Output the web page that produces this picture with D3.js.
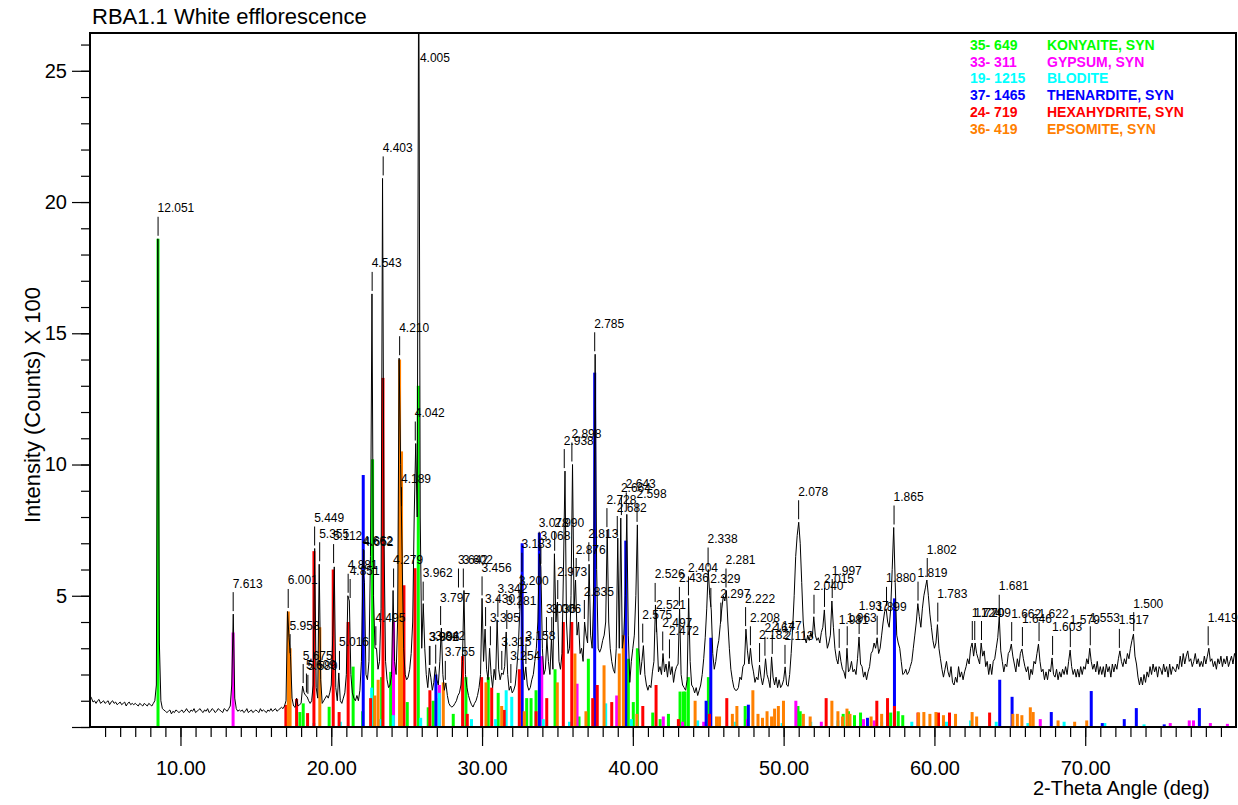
<!DOCTYPE html>
<html>
<head>
<meta charset="utf-8">
<script src="https://cdn.jsdelivr.net/npm/d3@7"></script>
<style>
  body { margin: 0; background: #fff; }
  svg { display: block; }
  text { font-family: "Liberation Sans", Arial, sans-serif; }
</style>
</head>
<body>
<svg id="chart" width="1238" height="805"></svg>
<script>
// measured pattern, one row per degree (step 0.1 deg, starts at 4.0)
const traceStart = 4.0;
const traceStep = 0.1;
const traceRows = [
  [1.2,1.1,0.95,1.0,0.9,1.0,1.05,0.9,0.95,1.0],
  [0.9,0.95,1.0,0.85,0.95,1.0,0.9,0.95,0.85,0.9],
  [0.95,0.85,0.9,0.95,0.8,0.9,0.95,0.85,0.9,0.85],
  [0.9,0.85,0.8,0.9,0.85,0.8,0.9,0.85,0.8,0.9],
  [0.85,0.8,0.9,1.0,1.6,18.6,3.2,1.0,0.7,0.65],
  [0.6,0.55,0.6,0.65,0.5,0.6,0.55,0.65,0.6,0.55],
  [0.6,0.65,0.55,0.6,0.7,0.6,0.55,0.65,0.6,0.7],
  [0.55,0.6,0.65,0.7,0.6,0.55,0.65,0.6,0.7,0.55],
  [0.6,0.7,0.65,0.55,0.6,0.7,0.65,0.6,0.55,0.7],
  [0.65,0.6,0.7,0.8,1.6,4.3,1.1,0.7,0.6,0.65],
  [0.6,0.65,0.55,0.6,0.7,0.55,0.6,0.65,0.55,0.6],
  [0.65,0.6,0.55,0.7,0.6,0.65,0.6,0.55,0.65,0.6],
  [0.7,0.6,0.65,0.7,0.6,0.65,0.7,0.75,0.7,0.8],
  [1.0,4.4,3.4,2.7,1.1,0.8,0.75,1.1,0.8,0.85],
  [0.9,1.56,1.3,1.2,1.15,1.0,0.9,1.0,1.6,6.8],
  [1.5,1.1,6.2,1.8,0.9,1.0,1.1,1.2,1.1,1.3],
  [1.6,3.5,6.1,1.5,1.0,2.06,1.0,0.9,1.1,1.3],
  [2.0,5.0,4.8,2.0,1.3,1.1,1.0,1.2,1.0,1.4],
  [2.5,5.94,5.5,2.0,1.8,2.5,6.5,16.5,5.0,3.0],
  [3.0,2.2,2.5,4.5,20.9,7.0,2.5,1.8,1.5,1.6],
  [2.0,5.2,2.5,2.0,4.0,14.05,10.0,6.5,3.0,2.0],
  [1.8,1.9,2.2,2.8,4.0,8.0,10.8,8.0,30,8.0],
  [3.0,4.7,3.0,2.0,1.5,2.25,1.9,1.4,1.7,2.3],
  [1.8,1.6,2.5,3.77,2.0,1.4,1.68,1.2,0.9,0.8],
  [0.76,0.8,0.9,1.0,1.2,1.3,1.6,2.5,5.2,2.0],
  [1.5,1.2,1.0,0.85,0.76,0.9,1.0,1.2,1.5,2.0],
  [4.9,2.5,3.73,2.2,1.8,3.0,2.0,1.5,2.2,1.8],
  [4.08,2.2,1.8,2.06,2.0,2.3,3.62,2.0,1.4,1.56],
  [1.3,1.4,1.6,2.2,3.0,4.4,5.8,2.5,1.8,2.29],
  [1.6,1.4,1.5,1.8,2.0,2.5,3.0,4.0,6.6,6.1],
  [3.0,2.0,2.2,3.35,2.5,2.0,3.35,2.2,6.6,4.0],
  [4.76,2.5,2.2,2.8,6.0,9.75,4.0,2.8,3.0,5.0],
  [10.0,4.5,5.6,3.5,4.0,2.8,3.0,2.5,4.0,3.5],
  [3.2,6.2,3.5,3.0,5.0,14.2,6.0,3.0,2.85,3.0],
  [3.3,3.5,4.0,7.5,4.0,3.0,2.5,2.2,2.05,3.0],
  [7.2,3.0,7.96,3.0,3.5,5.0,8.1,3.5,1.7,2.5],
  [3.0,3.5,5.0,7.7,3.0,2.0,2.5,3.1,2.0,1.6],
  [1.4,1.6,1.5,2.1,2.5,4.65,3.5,2.1,2.3,2.0],
  [2.8,2.1,2.4,1.9,2.5,2.0,2.3,1.7,2.1,2.3],
  [2.4,4.5,2.0,1.6,1.5,1.4,1.8,4.9,2.5,1.6],
  [1.5,1.3,1.5,1.2,1.4,1.6,2.0,2.6,3.4,4.5],
  [6.0,5.0,4.46,2.8,2.2,2.5,3.0,3.3,3.9,4.5],
  [5.0,4.8,5.2,4.0,3.0,2.2,1.8,1.5,1.4,1.4],
  [1.5,1.9,1.8,2.3,2.4,3.73,2.9,2.4,3.0,2.4],
  [2.1,1.7,1.9,1.8,2.36,1.9,1.6,1.9,2.6,2.0],
  [1.8,1.5,2.67,1.9,1.6,1.9,1.5,1.8,1.5,1.6],
  [1.8,2.29,1.6,1.55,2.0,2.8,3.8,5.0,6.5,7.3],
  [7.8,7.0,5.5,4.0,3.4,3.2,3.5,3.3,3.6,3.4],
  [4.2,3.5,3.3,3.4,3.2,3.6,3.8,4.46,3.5,3.0],
  [3.2,3.5,4.8,3.8,3.0,2.6,2.4,2.9,2.5,2.2],
  [2.1,1.85,3.0,2.1,2.2,2.5,2.1,2.2,2.0,2.6],
  [3.43,2.4,2.3,1.9,2.1,1.8,2.1,2.3,2.8,2.9],
  [3.2,3.0,3.4,2.8,3.0,3.5,4.0,4.4,4.5,4.0],
  [3.8,4.5,6.0,7.6,5.5,3.5,3.2,3.0,2.5,2.0],
  [2.05,2.2,2.0,2.1,2.3,2.5,3.0,3.5,4.0,4.7],
  [4.2,3.8,4.5,5.0,5.3,5.6,5.0,4.3,3.8,3.3],
  [3.0,3.2,3.9,3.0,2.6,2.2,1.9,2.2,2.5,2.1],
  [1.9,2.3,1.7,1.6,1.9,1.7,2.3,1.9,2.1,1.8],
  [2.1,2.3,2.6,2.4,3.0,3.2,2.7,3.2,2.8,2.6],
  [2.4,3.2,2.7,2.9,2.3,2.5,2.0,2.4,2.0,2.5],
  [2.6,3.0,3.4,4.2,2.9,2.5,2.1,2.4,2.3,2.8],
  [2.9,3.16,2.7,2.4,2.1,2.6,2.3,2.8,2.97,2.6],
  [2.3,2.1,2.3,1.8,2.2,2.0,2.5,2.4,2.8,3.16],
  [2.5,2.1,2.2,1.8,2.1,1.8,2.2,2.1,2.63,2.0],
  [1.9,2.2,1.8,2.1,1.9,2.2,2.0,2.3,2.0,2.5],
  [2.93,2.3,2.0,2.2,1.9,2.2,1.9,2.3,2.0,2.3],
  [2.2,2.6,2.4,3.0,2.5,2.2,2.4,2.1,2.5,2.0],
  [2.3,2.0,2.3,1.9,2.4,2.1,2.3,1.9,2.4,2.1],
  [2.4,2.2,2.6,2.9,2.5,2.3,2.6,2.4,2.8,2.6],
  [3.0,3.3,3.54,2.7,2.4,1.9,1.6,1.9,1.6,2.0],
  [1.7,2.1,1.9,2.3,2.0,2.4,2.1,2.3,1.9,2.3],
  [2.2,2.0,2.4,2.1,2.3,1.9,2.4,2.0,2.3,2.2],
  [2.1,2.4,2.2,2.7,2.3,2.8,2.4,2.7,2.9,2.5],
  [2.6,2.3,2.5,2.8,2.4,2.6,2.3,2.5,2.3,2.7],
  [2.4,2.7,3.0,2.5,2.6,2.3,2.5,2.2,2.6,2.4],
  [2.7,2.3,2.6,2.4,2.7,2.3,2.5,2.7,2.4,2.8],
  [2.6]
];

// reference sticks [2-theta, height]
const konyaite = [[8.51,18.6],[17.92,0.57],[18.14,0.9],[19.86,0.77],[21.45,2.3],[22.08,0.6],[22.74,10.2],[23.34,1.9],[23.94,2.1],[24.73,3.8],[25.04,0.95],[25.77,13.0],[26.43,0.75],[26.76,1.0],[27.16,1.1],[28.09,0.5],[28.93,1.9],[30.41,1.9],[31.07,1.3],[32.96,1.1],[33.25,1.1],[33.58,1.4],[34.84,2.2],[36.43,0.4],[37.05,2.6],[39.7,2.6],[40.03,0.95],[40.3,3.0],[41.32,0.55],[41.81,0.3],[42.36,0.5],[43.13,1.35],[43.35,1.35],[43.46,1.35],[43.68,1.9],[45.01,1.9],[47.45,0.8],[50.95,0.8],[51.1,0.6],[53.95,0.5],[54.3,0.6],[54.7,0.45],[55.1,0.55],[57.1,0.55],[57.6,0.6],[57.9,0.45]];
const gypsum = [[13.49,3.6],[24.13,4.0],[27.17,1.6],[33.96,2.7],[36.3,1.65],[38.93,1.2],[42.02,0.4],[43.3,0.2],[44.7,0.2],[47.6,0.3],[50.81,1.0],[52.5,0.2],[55.3,0.3],[56.0,0.25],[67.02,0.3],[75.64,0.15],[76.9,0.25],[77.18,0.25],[78.3,0.15],[79.43,0.12]];
const blodite = [[18.85,0.15],[20.6,0.2],[22.68,1.5],[23.22,0.3],[24.11,0.45],[25.93,0.35],[27.16,1.3],[29.3,0.3],[30.9,0.3],[31.6,1.4],[31.97,1.15],[34.06,0.3],[35.8,0.2],[38.2,0.9],[39.9,0.3],[44.3,0.25],[46.8,0.2],[49.9,0.15],[51.8,0.2],[53.6,0.25],[56.5,0.2],[58.5,0.2],[60.8,0.2],[62.4,0.25],[64.1,0.2],[66.2,0.15],[68.6,0.2],[71.3,0.15],[73.9,0.1]];
const thenardite = [[22.12,9.6],[26.94,2.0],[32.66,7.0],[33.8,7.4],[37.47,13.5],[39.53,7.1],[44.86,1.0],[45.17,3.4],[47.66,0.85],[55.56,0.35],[57.35,4.9],[64.33,1.8],[65.15,1.15],[67.75,0.57],[70.4,1.37],[71.13,0.15],[72.59,0.3],[73.39,0.72],[75.24,0.1],[77.57,0.72]];
const hexahydrite = [[16.99,0.84],[17.7,1.07],[18.43,0.53],[18.85,6.7],[20.13,6.0],[20.52,0.57],[21.12,4.0],[22.61,1.1],[23.43,13.3],[24.82,5.4],[25.55,6.05],[26.54,1.4],[28.71,2.7],[29.02,0.5],[29.97,1.9],[30.64,1.5],[31.47,0.65],[32.47,2.2],[33.58,0.6],[34.29,1.1],[35.39,4.0],[35.95,4.0],[37.34,1.1],[37.64,1.6],[38.6,0.95],[40.66,0.8],[41.54,1.6],[43.02,0.3],[45.08,0.5],[46.23,1.1],[52.82,1.1],[56.18,1.0],[56.89,1.1],[57.35,0.8],[58.91,0.55],[60.27,0.55],[61.0,0.55],[63.66,0.55]];
const epsomite = [[17.15,4.4],[17.27,3.0],[19.24,3.8],[22.89,1.2],[23.11,1.8],[24.53,14.0],[24.66,10.5],[27.43,1.7],[30.26,1.7],[31.3,0.8],[32.8,0.6],[34.99,1.7],[36.16,2.8],[36.89,0.6],[38.09,2.35],[39.1,2.8],[39.37,3.5],[40.27,0.5],[44.13,1.0],[45.55,0.4],[45.75,0.4],[46.6,0.5],[46.9,0.8],[47.96,1.4],[48.3,0.5],[48.6,0.35],[48.9,0.6],[49.2,0.4],[49.4,0.7],[49.65,0.8],[49.99,1.0],[51.31,0.5],[51.76,0.4],[53.2,1.0],[53.6,0.6],[53.9,0.4],[54.2,0.7],[54.4,0.5],[55.8,0.4],[56.5,0.5],[58.95,0.55],[59.3,0.57],[59.7,0.5],[60.1,0.57],[60.6,0.45],[61.4,0.5],[62.5,0.57],[62.8,0.4],[65.2,0.5],[65.5,0.5],[65.8,0.45],[66.36,0.75],[66.55,0.57],[68.2,0.25],[69.3,0.2],[70.1,0.25]];

// labelled peaks [2-theta, top, d-spacing]
const peakLabels = [
  [8.514,18.6,"12.051"],[13.495,4.3,"7.613"],[17.145,4.42,"6.001"],[17.27,2.7,"5.958"],
  [18.138,1.56,"5.675"],[18.353,1.2,"5.609"],[18.449,1.15,"5.580"],[18.897,6.8,"5.449"],
  [19.232,6.2,"5.355"],[20.155,6.13,"5.112"],[20.545,2.06,"5.016"],[21.12,5.0,"4.881"],
  [21.252,4.8,"4.851"],[22.124,5.94,"4.662"],[22.172,5.9,"4.652"],[22.711,16.5,"4.543"],
  [22.957,3.0,"4.495"],[23.443,20.9,"4.403"],[24.133,5.2,"4.279"],[24.535,14.05,"4.210"],
  [24.66,8.3,"4.189"],[25.571,10.8,"4.042"],[25.811,30,"4.005"],[26.096,4.7,"3.962"],
  [26.505,2.25,"3.902"],[26.547,2.25,"3.896"],[26.927,2.3,"3.842"],[27.252,3.77,"3.797"],
  [27.563,1.68,"3.755"],[28.436,5.2,"3.642"],[28.758,5.2,"3.602"],[30.0,4.9,"3.456"],
  [30.234,3.73,"3.430"],[30.553,3.0,"3.395"],[31.05,4.08,"3.342"],[31.309,2.06,"3.315"],
  [31.642,3.62,"3.281"],[31.911,1.56,"3.254"],[32.465,4.4,"3.200"],[32.643,5.8,"3.183"],
  [32.909,2.29,"3.158"],[33.789,6.6,"3.078"],[33.902,6.1,"3.068"],[34.271,3.35,"3.036"],
  [34.624,3.35,"3.006"],[34.815,6.6,"2.990"],[35.021,4.76,"2.973"],[35.452,9.75,"2.938"],
  [35.957,10.0,"2.898"],[36.242,5.6,"2.876"],[36.785,4.0,"2.835"],[37.083,6.2,"2.813"],
  [37.47,14.2,"2.785"],[38.282,7.5,"2.728"],[38.966,7.2,"2.682"],[39.24,7.96,"2.664"],
  [39.564,8.1,"2.643"],[40.279,7.7,"2.598"],[40.655,3.1,"2.575"],[41.479,4.65,"2.526"],
  [41.565,3.5,"2.521"],[41.982,2.8,"2.497"],[42.428,2.5,"2.472"],[43.087,4.5,"2.436"],
  [43.689,4.9,"2.404"],[44.99,6.0,"2.338"],[45.173,4.46,"2.329"],[45.837,3.9,"2.297"],
  [46.177,5.2,"2.281"],[47.478,3.73,"2.222"],[47.797,3.0,"2.208"],[48.403,2.36,"2.182"],
  [48.76,2.6,"2.167"],[49.245,2.67,"2.147"],[50.09,2.29,"2.113"],[50.995,7.8,"2.078"],
  [52.013,4.2,"2.040"],[52.71,4.46,"2.015"],[53.222,4.8,"1.997"],[53.685,2.9,"1.981"],
  [54.217,3.0,"1.963"],[55.007,3.43,"1.937"],[56.203,3.4,"1.899"],[56.824,4.5,"1.880"],
  [57.323,7.6,"1.865"],[58.913,4.7,"1.819"],[59.524,5.6,"1.802"],[60.223,3.9,"1.783"],
  [62.511,3.2,"1.724"],[62.674,3.2,"1.720"],[63.123,3.2,"1.709"],[64.298,4.2,"1.681"],
  [65.125,3.16,"1.662"],[65.836,2.97,"1.646"],[66.939,3.16,"1.622"],[67.837,2.63,"1.603"],
  [69.014,2.93,"1.579"],[70.337,3.0,"1.553"],[72.265,2.9,"1.517"],[73.217,3.54,"1.500"],
  [78.155,3.0,"1.419"]
];

const legendCodes = ["35- 649","33- 311","19- 1215","37- 1465","24- 719","36- 419"];
const legendNames = ["KONYAITE, SYN","GYPSUM, SYN","BLODITE","THENARDITE, SYN","HEXAHYDRITE, SYN","EPSOMITE, SYN"];
const legendColors = ["#00ff00","#ff00ff","#00ffff","#0000ff","#ff0000","#ff8000"];
const phaseSticks = [konyaite, gypsum, blodite, thenardite, hexahydrite, epsomite];

const yMajor = [0,5,10,15,20,25];
const xMajor = [10,20,30,40,50,60,70];

const plotL = 90, plotT = 33, plotR = 1236, plotB = 727;
const svg = d3.select('#chart');

const x = d3.scaleLinear().domain([4, 80]).range([plotL, plotR]);
const y = d3.scaleLinear().domain([0, 26.44]).range([plotB, plotT]);

svg.append('defs').append('clipPath').attr('id', 'plotclip')
  .append('rect').attr('x', plotL).attr('y', plotT)
  .attr('width', plotR - plotL).attr('height', plotB - plotT);

const plot = svg.append('g').attr('clip-path', 'url(#plotclip)');

// sticks
phaseSticks.forEach((sticks, i) => {
  plot.append('g').selectAll('rect')
    .data(sticks)
    .enter().append('rect')
    .attr('x', d => x(d[0]) - 1.5)
    .attr('width', 3)
    .attr('y', d => y(d[1]))
    .attr('height', d => plotB - y(d[1]))
    .attr('fill', legendColors[i]);
});

// pattern
const trace = traceRows.flat().map((v, i) => [traceStart + i * traceStep, v]);
plot.append('path')
  .datum(trace)
  .attr('fill', 'none')
  .attr('stroke', '#000')
  .attr('stroke-width', 1)
  .attr('stroke-linejoin', 'round')
  .attr('d', d3.line().x(d => x(d[0])).y(d => y(d[1])));

// peak labels
const lab = svg.append('g');
peakLabels.forEach(p => {
  const px = x(p[0]);
  if (p[1] > 26) {
    lab.append('text').attr('x', px + 1).attr('y', 62)
      .attr('font-size', 12).text(p[2]);
    return;
  }
  const py = y(p[1]);
  lab.append('line')
    .attr('x1', px).attr('x2', px)
    .attr('y1', py - 3).attr('y2', py - 22)
    .attr('stroke', '#000').attr('stroke-width', 1);
  lab.append('text').attr('x', px - 0.5).attr('y', py - 26.5)
    .attr('font-size', 12).text(p[2]);
});

// axes
const axisStyle = g => {
  g.select('.domain').remove();
  g.selectAll('.tick line').attr('stroke', '#000').attr('stroke-width', 1.2);
  g.selectAll('.tick text').attr('fill', '#000').attr('font-size', 20)
    .attr('font-family', '"Liberation Sans", Arial, sans-serif');
};

svg.append('g').attr('transform', `translate(${plotL},0)`)
  .call(d3.axisLeft(y).tickValues(d3.range(0, 27)).tickSize(9).tickFormat(''))
  .call(axisStyle);
svg.append('g').attr('transform', `translate(${plotL},0)`)
  .call(d3.axisLeft(y).tickValues(yMajor).tickSize(18).tickPadding(5).tickFormat(d => d ? d : ''))
  .call(axisStyle);

svg.append('g').attr('transform', `translate(0,${plotB})`)
  .call(d3.axisBottom(x).tickValues(d3.range(5, 80)).tickSize(10).tickFormat(''))
  .call(axisStyle);
svg.append('g').attr('transform', `translate(0,${plotB})`)
  .call(d3.axisBottom(x).tickValues(xMajor).tickSize(19).tickPadding(15).tickFormat(d3.format('.2f')))
  .call(axisStyle);

// frame
svg.append('rect')
  .attr('x', plotL).attr('y', plotT)
  .attr('width', plotR - plotL).attr('height', plotB - plotT)
  .attr('fill', 'none').attr('stroke', '#000').attr('stroke-width', 2);

// titles
svg.append('text').attr('x', 92).attr('y', 24)
  .attr('font-size', 22).text('RBA1.1 White efflorescence');
svg.append('text').attr('x', 1033).attr('y', 795)
  .attr('font-size', 20).text('2-Theta Angle (deg)');
svg.append('text')
  .attr('transform', 'translate(40,405) rotate(-90)')
  .attr('text-anchor', 'middle')
  .attr('font-size', 22).text('Intensity (Counts) X 100');

// legend
const leg = svg.append('g').attr('font-size', 14).attr('font-weight', 'bold');
legendCodes.forEach((c, i) => {
  const ly = 50 + i * 16.7;
  leg.append('text').attr('x', 970).attr('y', ly).attr('fill', legendColors[i]).text(c);
  leg.append('text').attr('x', 1047).attr('y', ly).attr('fill', legendColors[i]).text(legendNames[i]);
});
</script>
</body>
</html>
